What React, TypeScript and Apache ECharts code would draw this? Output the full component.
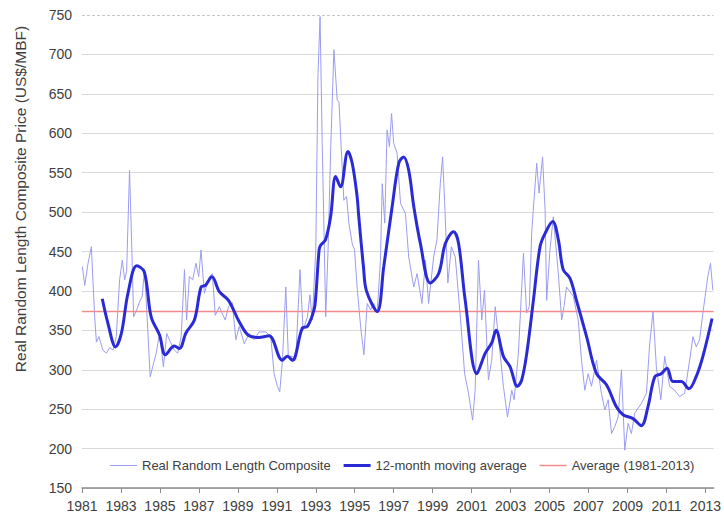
import React, { useEffect, useRef } from "react";
import * as echarts from "echarts";

// Monthly real Random Lengths composite price
const rawYears = [
  1981.02, 1981.14, 1981.31, 1981.48, 1981.65, 1981.74, 1981.87, 1982.07, 1982.25, 1982.42,
  1982.59, 1982.76, 1982.93, 1983.07, 1983.19, 1983.29, 1983.44, 1983.53, 1983.65, 1983.81,
  1983.95, 1984.09, 1984.21, 1984.35, 1984.5, 1984.63, 1984.81, 1984.98, 1985.18, 1985.35,
  1985.52, 1985.74, 1985.91, 1986.09, 1986.26, 1986.37, 1986.51, 1986.68, 1986.85, 1986.99,
  1987.11, 1987.28, 1987.54, 1987.69, 1987.84, 1988.05, 1988.35, 1988.52, 1988.71, 1988.9,
  1989.07, 1989.33, 1989.58, 1989.84, 1990.09, 1990.44, 1990.69, 1990.86, 1991.03, 1991.15,
  1991.29, 1991.46, 1991.59, 1991.8, 1991.97, 1992.19, 1992.35, 1992.57, 1992.7, 1992.82,
  1993.0, 1993.11, 1993.22, 1993.33, 1993.51, 1993.63, 1993.76, 1993.93, 1994.1, 1994.19,
  1994.31, 1994.44, 1994.58, 1994.7, 1994.87, 1994.99, 1995.12, 1995.3, 1995.47, 1995.64,
  1995.81, 1995.98, 1996.15, 1996.32, 1996.41, 1996.54, 1996.66, 1996.78, 1996.89, 1997.0,
  1997.17, 1997.35, 1997.6, 1997.77, 1998.03, 1998.2, 1998.45, 1998.63, 1998.79, 1999.05,
  1999.22, 1999.39, 1999.51, 1999.61, 1999.78, 1999.96, 2000.16, 2000.42, 2000.64, 2000.84,
  2001.05, 2001.18, 2001.35, 2001.52, 2001.66, 2001.86, 2002.03, 2002.21, 2002.46, 2002.63,
  2002.84, 2003.06, 2003.18, 2003.4, 2003.66, 2003.82, 2003.96, 2004.08, 2004.2, 2004.34,
  2004.46, 2004.64, 2004.77, 2004.85, 2005.02, 2005.19, 2005.45, 2005.62, 2005.74, 2005.87,
  2006.22, 2006.47, 2006.64, 2006.81, 2006.98, 2007.15, 2007.41, 2007.66, 2007.84, 2008.01,
  2008.18, 2008.35, 2008.52, 2008.69, 2008.86, 2009.03, 2009.2, 2009.37, 2009.71, 2009.97,
  2010.14, 2010.31, 2010.48, 2010.71, 2010.91, 2011.16, 2011.42, 2011.67, 2011.93, 2012.19,
  2012.36, 2012.53, 2012.7, 2012.87, 2013.12, 2013.26, 2013.38,
];
const rawValues = [
  431, 407, 435, 456, 367, 335, 342, 325, 321, 328,
  325, 342, 414, 439, 414, 425, 553, 477, 367, 376,
  386, 393, 427, 363, 291, 304, 321, 346, 304, 346,
  336, 325, 321, 342, 427, 363, 418, 414, 435, 418,
  452, 397, 418, 422, 369, 380, 363, 380, 385, 338,
  355, 333, 346, 338, 348, 348, 342, 295, 279, 272,
  312, 405, 317, 317, 312, 427, 350, 367, 395, 363,
  452, 672, 748, 587, 367, 452, 575, 706, 642, 640,
  579, 515, 520, 486, 460, 452, 405, 355, 319, 384,
  376, 384, 372, 439, 536, 486, 604, 583, 625, 587,
  575, 511, 498, 443, 405, 422, 384, 439, 384, 443,
  465, 536, 570, 515, 410, 456, 443, 367, 295, 270,
  236, 274, 439, 363, 401, 287, 312, 380, 321, 279,
  240, 274, 262, 321, 448, 372, 380, 473, 515, 562,
  524, 570, 503, 388, 452, 494, 422, 363, 380, 405,
  393, 363, 312, 274, 295, 279, 312, 270, 249, 262,
  219, 228, 240, 300, 198, 232, 219, 245, 257, 270,
  333, 374, 304, 262, 317, 279, 274, 266, 270, 312,
  342, 329, 338, 372, 418, 435, 401,
];

// 12-month moving average
const maYears = [
  1982.04, 1982.33, 1982.72, 1983.02, 1983.36, 1983.81, 1984.2, 1984.55, 1984.98, 1985.28,
  1985.74, 1986.0, 1986.34, 1986.77, 1987.11, 1987.33, 1987.67, 1988.05, 1988.52, 1989.07,
  1989.58, 1990.07, 1990.6, 1991.28, 1991.54, 1991.8, 1992.31, 1992.57, 1992.91, 1993.0,
  1993.17, 1993.25, 1993.5, 1993.76, 1994.02, 1994.27, 1994.65, 1994.87, 1995.12, 1995.2,
  1995.45, 1995.6, 1996.15, 1996.49, 1996.92, 1997.26, 1997.51, 1997.77, 1998.03, 1998.37,
  1998.88, 1999.31, 1999.65, 2000.07, 2000.33, 2000.67, 2001.27, 2001.7, 2002.03, 2002.25,
  2002.63, 2002.97, 2003.35, 2003.57, 2003.83, 2004.17, 2004.51, 2004.77, 2005.16, 2005.45,
  2005.7, 2006.05, 2006.38, 2006.9, 2007.41, 2007.92, 2008.43, 2008.77, 2009.28, 2009.71,
  2010.05, 2010.4, 2010.73, 2011.03, 2011.33, 2011.76, 2012.15, 2012.52, 2012.87, 2013.34,
];
const maValues = [
  390, 359, 329, 346, 397, 432, 424, 367, 344, 319,
  330, 327, 347, 363, 405, 407, 418, 399, 388, 361,
  343, 341, 343, 312, 317, 312, 353, 355, 376, 393,
  452, 458, 465, 494, 545, 532, 577, 562, 520, 496,
  430, 400, 374, 431, 507, 562, 570, 553, 507, 460,
  410, 422, 460, 475, 460, 388, 295, 321, 334, 350,
  317, 304, 279, 287, 321, 388, 456, 473, 488, 465,
  427, 416, 388, 342, 295, 281, 253, 243, 238, 229,
  253, 291, 295, 302, 285, 285, 276, 291, 317, 365,
];

const averageValue = 374;
const averageYears = [1981, 2013.42];
const xTickYears = [1981, 1983, 1985, 1987, 1989, 1991, 1993, 1995, 1997, 1999, 2001, 2003, 2005, 2007, 2009, 2011, 2013];
const yMin = 150;
const yMax = 750;
const yStep = 50;

const FONT = "'Liberation Sans', Arial, sans-serif";
const RAW_COLOR = "#9c9cf0";
const MA_COLOR = "#2b2bd6";
const AVG_COLOR = "#f28b8b";

export default function App() {
  const ref = useRef<HTMLDivElement>(null);
  useEffect(() => {
    const chart = echarts.init(ref.current!, null, { renderer: "svg" });
    const rawData = rawYears.map((y, i) => [y, rawValues[i]]);
    const maData = maYears.map((y, i) => [y, maValues[i]]);
    const avgData = averageYears.map((y) => [y, averageValue]);
    chart.setOption({
      animation: false,
      backgroundColor: "#ffffff",
      textStyle: { fontFamily: FONT },
      grid: { left: 82, right: 8, top: 15, bottom: 26, containLabel: false },
      xAxis: {
        type: "value",
        min: 1981,
        max: 2013.42,
        axisLine: { show: true, lineStyle: { color: "#8c8c8c", width: 1.5 } },
        axisTick: { show: true, length: 5, inside: false, customValues: xTickYears, lineStyle: { color: "#8c8c8c" } },
        axisLabel: {
          customValues: xTickYears,
          formatter: (v: number) => String(Math.round(v)),
          color: "#404040",
          fontSize: 14,
          fontFamily: FONT,
          margin: 11,
        },
        splitLine: { show: false },
      },
      yAxis: {
        type: "value",
        min: yMin,
        max: yMax,
        interval: yStep,
        axisLine: { show: false },
        axisTick: { show: false },
        axisLabel: { color: "#404040", fontSize: 14, fontFamily: FONT, margin: 10 },
        splitLine: { show: true, showMaxLine: false, lineStyle: { color: "#d9d9d9", width: 1 } },
      },
      legend: {
        left: 105,
        top: 454,
        itemWidth: 27,
        itemHeight: 14,
        itemGap: 13,
        data: [
          { name: "Real Random Length Composite", icon: "path://M0,0H27V1H0Z" },
          { name: "12-month moving average", icon: "path://M0,0H27V3H0Z" },
          { name: "Average (1981-2013)", icon: "path://M0,0H27V1.5H0Z" },
        ],
        textStyle: { color: "#404040", fontSize: 13, fontFamily: FONT },
      },
      graphic: [
        {
          type: "text",
          x: 20,
          y: 199,
          rotation: Math.PI / 2,
          style: {
            text: "Real Random Length Composite Price (US$/MBF)",
            fill: "#404040",
            fontSize: 15.5,
            fontFamily: FONT,
            align: "center",
            verticalAlign: "middle",
          },
        },
      ],
      series: [
        {
          name: "Real Random Length Composite",
          type: "line",
          data: rawData,
          symbol: "none",
          lineStyle: { color: RAW_COLOR, width: 1 },
          itemStyle: { color: RAW_COLOR },
          markLine: {
            silent: true,
            symbol: "none",
            label: { show: false },
            lineStyle: { color: "#c8c8c8", type: [3, 2], width: 1 },
            data: [{ yAxis: yMax }],
          },
        },
        {
          name: "Average (1981-2013)",
          type: "line",
          data: avgData,
          symbol: "none",
          lineStyle: { color: AVG_COLOR, width: 1.5 },
          itemStyle: { color: AVG_COLOR },
        },
        {
          name: "12-month moving average",
          type: "line",
          data: maData,
          symbol: "none",
          smooth: 0.35,
          lineStyle: { color: MA_COLOR, width: 3 },
          itemStyle: { color: MA_COLOR },
        },
      ],
    });
    return () => chart.dispose();
  }, []);
  return <div ref={ref} style={{ position: "fixed", left: 0, top: 0, width: 724, height: 514 }} />;
}
